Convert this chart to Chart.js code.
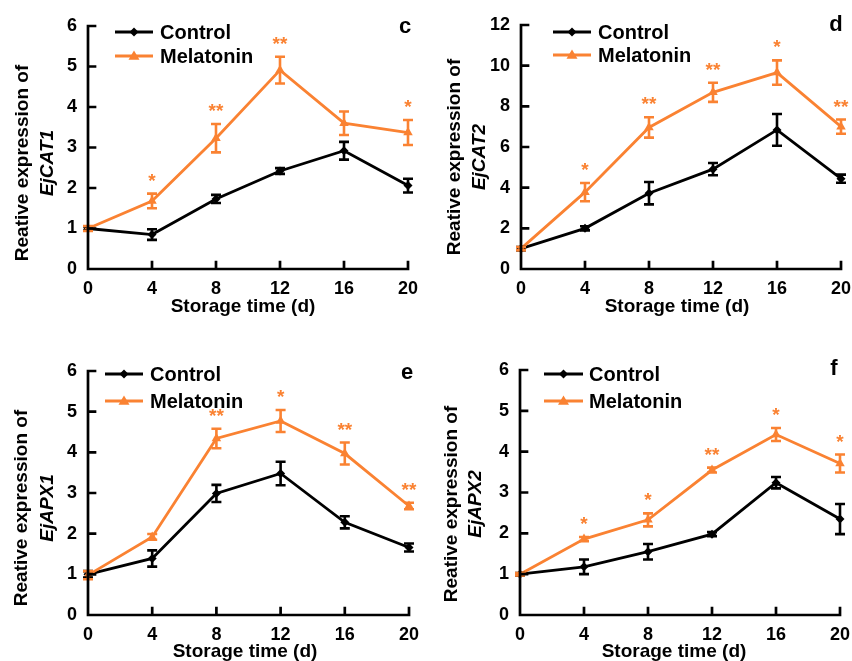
<!DOCTYPE html>
<html>
<head>
<meta charset="utf-8">
<script src="https://cdn.jsdelivr.net/npm/chart.js@4/dist/chart.umd.min.js"></script>
<style>
  html, body { margin: 0; padding: 0; background: #fff; }
  #wrap { position: relative; width: 852px; height: 661px; overflow: hidden; }
  canvas { position: absolute; }
</style>
</head>
<body>
<div id="wrap">
  <canvas id="chartC" width="426" height="330" style="left:0;top:0"></canvas>
  <canvas id="chartD" width="426" height="330" style="left:426px;top:0"></canvas>
  <canvas id="chartE" width="426" height="331" style="left:0;top:330px"></canvas>
  <canvas id="chartF" width="426" height="331" style="left:426px;top:330px"></canvas>
</div>
<script>
// --- data ---
const days = [0, 4, 8, 12, 16, 20];

// c: EjCAT1
const cat1Control = [1.00, 0.85, 1.73, 2.42, 2.92, 2.06];
const cat1ControlErr = [0.05, 0.13, 0.10, 0.07, 0.22, 0.17];
const cat1Melatonin = [1.00, 1.68, 3.23, 4.91, 3.60, 3.37];
const cat1MelatoninErr = [0.06, 0.18, 0.35, 0.33, 0.29, 0.31];
const cat1Stars = ["", "*", "**", "**", "", "*"];

// d: EjCAT2
const cat2Control = [1.00, 2.00, 3.73, 4.91, 6.84, 4.44];
const cat2ControlErr = [0.08, 0.10, 0.55, 0.30, 0.78, 0.20];
const cat2Melatonin = [1.00, 3.78, 6.96, 8.69, 9.66, 7.00];
const cat2MelatoninErr = [0.08, 0.45, 0.50, 0.47, 0.60, 0.35];
const cat2Stars = ["", "*", "**", "**", "*", "**"];

// e: EjAPX1
const apx1Control = [1.00, 1.39, 2.99, 3.48, 2.28, 1.66];
const apx1ControlErr = [0.08, 0.20, 0.21, 0.29, 0.15, 0.10];
const apx1Melatonin = [0.98, 1.92, 4.34, 4.77, 3.97, 2.68];
const apx1MelatoninErr = [0.10, 0.07, 0.24, 0.27, 0.27, 0.08];
const apx1Stars = ["", "", "**", "*", "**", "**"];

// f: EjAPX2
const apx2Control = [1.00, 1.18, 1.55, 1.98, 3.24, 2.35];
const apx2ControlErr = [0.03, 0.18, 0.19, 0.05, 0.14, 0.37];
const apx2Melatonin = [1.00, 1.86, 2.33, 3.55, 4.42, 3.71];
const apx2MelatoninErr = [0.03, 0.05, 0.16, 0.06, 0.16, 0.22];
const apx2Stars = ["", "*", "*", "**", "*", "*"];

const ORANGE = "#FA8232";
const FONT = "'Liberation Sans', Arial, sans-serif";
const Y_W = 60;   // fixed y axis box width
const X_H = 30;   // fixed x axis box height

// panel layout (pixels inside each canvas)
const panels = [
  { canvas: "chartC", letter: "c", gene: "EjCAT1", yMax: 6, yStep: 1,
    control: cat1Control, controlErr: cat1ControlErr, mel: cat1Melatonin, melErr: cat1MelatoninErr, stars: cat1Stars,
    area: { l: 88, r: 408, t: 26, b: 269 },
    legend: { x1: 115, x2: 153, y1: 32, y2: 56, tx: 160 },
    yTitle: { x1: 23, x2: 48, cy: 163 }, xTitle: { x: 243, y: 307 }, tag: { x: 405, y: 27 } },
  { canvas: "chartD", letter: "d", gene: "EjCAT2", yMax: 12, yStep: 2,
    control: cat2Control, controlErr: cat2ControlErr, mel: cat2Melatonin, melErr: cat2MelatoninErr, stars: cat2Stars,
    area: { l: 95, r: 415, t: 25, b: 269 },
    legend: { x1: 127, x2: 165, y1: 32, y2: 55, tx: 172 },
    yTitle: { x1: 29, x2: 54, cy: 157 }, xTitle: { x: 251, y: 307 }, tag: { x: 410, y: 25 } },
  { canvas: "chartE", letter: "e", gene: "EjAPX1", yMax: 6, yStep: 1,
    control: apx1Control, controlErr: apx1ControlErr, mel: apx1Melatonin, melErr: apx1MelatoninErr, stars: apx1Stars,
    area: { l: 88, r: 409, t: 41, b: 285 },
    legend: { x1: 105, x2: 143, y1: 44, y2: 71, tx: 150 },
    yTitle: { x1: 22, x2: 48, cy: 178 }, xTitle: { x: 245, y: 322 }, tag: { x: 407, y: 43 } },
  { canvas: "chartF", letter: "f", gene: "EjAPX2", yMax: 6, yStep: 1,
    control: apx2Control, controlErr: apx2ControlErr, mel: apx2Melatonin, melErr: apx2MelatoninErr, stars: apx2Stars,
    area: { l: 94, r: 414, t: 40, b: 285 },
    legend: { x1: 118, x2: 157, y1: 44, y2: 71, tx: 163 },
    yTitle: { x1: 26, x2: 50, cy: 174 }, xTitle: { x: 248, y: 322 }, tag: { x: 408, y: 39 } }
];

function drawMarker(ctx, style, x, y, color) {
  ctx.save();
  ctx.fillStyle = color;
  ctx.beginPath();
  if (style === "diamond") {
    const r = 4.5;
    ctx.moveTo(x, y - r); ctx.lineTo(x + r, y); ctx.lineTo(x, y + r); ctx.lineTo(x - r, y);
  } else {
    const r = 5.5;
    ctx.moveTo(x, y - r); ctx.lineTo(x + r, y + r * 0.7); ctx.lineTo(x - r, y + r * 0.7);
  }
  ctx.closePath();
  ctx.fill();
  ctx.restore();
}

// error bars, asterisks, axes, legend and titles for one panel
function extras(p) {
  return {
    id: "extras_" + p.letter,
    afterDatasetsDraw(chart) {
      const ctx = chart.ctx;
      const y = chart.scales.y;
      const sets = [
        { vals: p.control, errs: p.controlErr, color: "#000", di: 0 },
        { vals: p.mel, errs: p.melErr, color: ORANGE, di: 1 }
      ];
      sets.forEach(s => {
        const meta = chart.getDatasetMeta(s.di);
        ctx.save();
        ctx.strokeStyle = s.color;
        ctx.lineWidth = 2.6;
        meta.data.forEach((pt, i) => {
          const e = s.errs[i];
          if (!e) return;
          const top = y.getPixelForValue(s.vals[i] + e);
          const bot = y.getPixelForValue(s.vals[i] - e);
          ctx.beginPath();
          ctx.moveTo(pt.x, top); ctx.lineTo(pt.x, bot);
          ctx.moveTo(pt.x - 5, top); ctx.lineTo(pt.x + 5, top);
          ctx.moveTo(pt.x - 5, bot); ctx.lineTo(pt.x + 5, bot);
          ctx.stroke();
        });
        ctx.restore();
      });

      // significance asterisks above the melatonin error bars
      const mMeta = chart.getDatasetMeta(1);
      ctx.save();
      ctx.fillStyle = ORANGE;
      ctx.font = "bold 19px " + FONT;
      ctx.textAlign = "center";
      ctx.textBaseline = "alphabetic";
      p.stars.forEach((st, i) => {
        if (!st) return;
        const top = y.getPixelForValue(p.mel[i] + p.melErr[i]);
        ctx.fillText(st, mMeta.data[i].x, top - 7);
      });
      ctx.restore();
    },
    afterDraw(chart) {
      const ctx = chart.ctx;
      const { left, right, top, bottom } = chart.chartArea;
      const xs = chart.scales.x, ys = chart.scales.y;

      // axis lines with inward ticks
      ctx.save();
      ctx.strokeStyle = "#000";
      ctx.lineWidth = 2.7;
      ctx.lineCap = "square";
      ctx.beginPath();
      ctx.moveTo(left, top); ctx.lineTo(left, bottom); ctx.lineTo(right, bottom);
      ys.ticks.forEach(t => {
        const py = ys.getPixelForValue(t.value);
        ctx.moveTo(left, py); ctx.lineTo(left + 7, py);
      });
      xs.ticks.forEach(t => {
        const px = xs.getPixelForValue(t.value);
        ctx.moveTo(px, bottom); ctx.lineTo(px, bottom - 7);
      });
      ctx.stroke();
      ctx.restore();

      // legend
      const lg = p.legend;
      ctx.save();
      ctx.lineWidth = 2.8;
      ctx.strokeStyle = "#000";
      ctx.beginPath(); ctx.moveTo(lg.x1, lg.y1); ctx.lineTo(lg.x2, lg.y1); ctx.stroke();
      drawMarker(ctx, "diamond", (lg.x1 + lg.x2) / 2, lg.y1, "#000");
      ctx.strokeStyle = ORANGE;
      ctx.beginPath(); ctx.moveTo(lg.x1, lg.y2); ctx.lineTo(lg.x2, lg.y2); ctx.stroke();
      drawMarker(ctx, "triangle", (lg.x1 + lg.x2) / 2, lg.y2, ORANGE);
      ctx.fillStyle = "#000";
      ctx.font = "bold 20px " + FONT;
      ctx.textAlign = "left";
      ctx.textBaseline = "middle";
      ctx.fillText("Control", lg.tx, lg.y1 + 1);
      ctx.fillText("Melatonin", lg.tx, lg.y2 + 1);

      // panel letter
      ctx.font = "bold 22px " + FONT;
      ctx.textAlign = "center";
      ctx.fillText(p.letter, p.tag.x, p.tag.y);

      // x axis title
      ctx.font = "bold 19px " + FONT;
      ctx.fillText("Storage time (d)", p.xTitle.x, p.xTitle.y);

      // y axis title, two lines, gene name in italic
      ctx.save();
      ctx.translate(p.yTitle.x1, p.yTitle.cy);
      ctx.rotate(-Math.PI / 2);
      ctx.font = "bold 19px " + FONT;
      ctx.fillText("Reative expression of", 0, 0);
      ctx.restore();
      ctx.save();
      ctx.translate(p.yTitle.x2, p.yTitle.cy);
      ctx.rotate(-Math.PI / 2);
      ctx.font = "italic bold 19px " + FONT;
      ctx.fillText(p.gene, 0, 0);
      ctx.restore();
      ctx.restore();
    }
  };
}

function buildChart(p) {
  const canvas = document.getElementById(p.canvas);
  const W = canvas.width, H = canvas.height;
  const tickFont = { family: FONT, size: 18, weight: "bold" };
  return new Chart(canvas, {
    type: "line",
    data: {
      datasets: [
        {
          label: "Control",
          data: days.map((d, i) => ({ x: d, y: p.control[i] })),
          borderColor: "#000", backgroundColor: "#000",
          borderWidth: 2.8, pointStyle: "rectRot", pointRadius: 4.5,
          pointBorderWidth: 0, tension: 0, clip: false, order: 1
        },
        {
          label: "Melatonin",
          data: days.map((d, i) => ({ x: d, y: p.mel[i] })),
          borderColor: ORANGE, backgroundColor: ORANGE,
          borderWidth: 2.8, pointStyle: "triangle", pointRadius: 5.5,
          pointBorderWidth: 0, tension: 0, clip: false, order: 0
        }
      ]
    },
    options: {
      responsive: false,
      animation: false,
      events: [],
      layout: {
        padding: {
          left: p.area.l - Y_W,
          right: W - p.area.r,
          top: p.area.t,
          bottom: H - p.area.b - X_H
        }
      },
      plugins: { legend: { display: false }, tooltip: { enabled: false } },
      scales: {
        x: {
          type: "linear", min: 0, max: 20,
          grid: { display: false, drawTicks: false },
          border: { display: false },
          ticks: { stepSize: 4, padding: 9, color: "#000", font: tickFont, maxRotation: 0 },
          afterFit(s) { s.height = X_H; s.paddingLeft = 0; s.paddingRight = 0; }
        },
        y: {
          min: 0, max: p.yMax,
          grid: { display: false, drawTicks: false },
          border: { display: false },
          ticks: { stepSize: p.yStep, padding: 11, color: "#000", font: tickFont },
          afterFit(s) { s.width = Y_W; s.paddingTop = 0; s.paddingBottom = 0; }
        }
      }
    },
    plugins: [extras(p)]
  });
}

window.addEventListener("load", function () {
  panels.forEach(buildChart);
});
</script>
</body>
</html>
